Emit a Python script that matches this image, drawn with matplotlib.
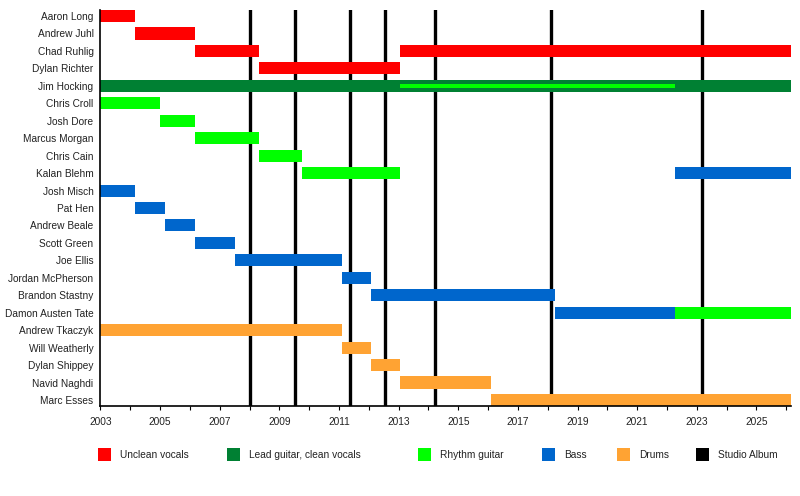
import matplotlib
matplotlib.use("Agg")
import matplotlib.pyplot as plt
from matplotlib.patches import Rectangle
from matplotlib.ticker import MultipleLocator

plt.rcParams["font.family"] = ["Liberation Sans", "DejaVu Sans"]

# ---------------- data ----------------
END = 2026.15

members = [
    "Aaron Long", "Andrew Juhl", "Chad Ruhlig", "Dylan Richter", "Jim Hocking",
    "Chris Croll", "Josh Dore", "Marcus Morgan", "Chris Cain", "Kalan Blehm",
    "Josh Misch", "Pat Hen", "Andrew Beale", "Scott Green", "Joe Ellis",
    "Jordan McPherson", "Brandon Stastny", "Damon Austen Tate",
    "Andrew Tkaczyk", "Will Weatherly", "Dylan Shippey", "Navid Naghdi",
    "Marc Esses",
]

roles = ["Unclean vocals", "Lead guitar, clean vocals", "Rhythm guitar",
         "Bass", "Drums", "Studio Album"]
role_colors = ["#ff0000", "#008033", "#00ff00", "#0066cc", "#ffa333", "#000000"]

# (member, role, start, end)
stints = [
    ("Aaron Long", "Unclean vocals", 2003.0, 2004.16),
    ("Andrew Juhl", "Unclean vocals", 2004.16, 2006.18),
    ("Chad Ruhlig", "Unclean vocals", 2006.18, 2008.32),
    ("Chad Ruhlig", "Unclean vocals", 2013.05, END),
    ("Dylan Richter", "Unclean vocals", 2008.32, 2013.05),
    ("Jim Hocking", "Lead guitar, clean vocals", 2003.0, END),
    ("Chris Croll", "Rhythm guitar", 2003.0, 2005.0),
    ("Josh Dore", "Rhythm guitar", 2005.0, 2006.18),
    ("Marcus Morgan", "Rhythm guitar", 2006.18, 2008.32),
    ("Chris Cain", "Rhythm guitar", 2008.32, 2009.76),
    ("Kalan Blehm", "Rhythm guitar", 2009.76, 2013.05),
    ("Kalan Blehm", "Bass", 2022.27, END),
    ("Josh Misch", "Bass", 2003.0, 2004.16),
    ("Pat Hen", "Bass", 2004.16, 2005.17),
    ("Andrew Beale", "Bass", 2005.17, 2006.18),
    ("Scott Green", "Bass", 2006.18, 2007.52),
    ("Joe Ellis", "Bass", 2007.52, 2011.1),
    ("Jordan McPherson", "Bass", 2011.1, 2012.08),
    ("Brandon Stastny", "Bass", 2012.08, 2018.25),
    ("Damon Austen Tate", "Bass", 2018.25, 2022.27),
    ("Damon Austen Tate", "Rhythm guitar", 2022.27, END),
    ("Andrew Tkaczyk", "Drums", 2003.0, 2011.1),
    ("Will Weatherly", "Drums", 2011.1, 2012.08),
    ("Dylan Shippey", "Drums", 2012.08, 2013.05),
    ("Navid Naghdi", "Drums", 2013.05, 2016.1),
    ("Marc Esses", "Drums", 2016.1, END),
]

# secondary role drawn as a thin bar inside the main one
thin_stints = [
    ("Jim Hocking", "Rhythm guitar", 2013.05, 2022.27),
]

album_years = [2008.0, 2009.54, 2011.38, 2012.53, 2014.23, 2018.12, 2023.19]

# ---------------- plot ----------------
color_of = dict(zip(roles, role_colors))
row_of = {name: i for i, name in enumerate(members)}

fig = plt.figure(figsize=(8, 4.96), dpi=100)
ax = fig.add_axes([0.1256, 0.1815, 0.9884 - 0.1256, 0.9798 - 0.1815])

bar_h = 0.69

for year in album_years:
    ax.axvline(year, color="black", linewidth=2.4, zorder=1)

for name, role, start, end in stints:
    ax.barh(row_of[name], end - start, left=start, height=bar_h,
            color=color_of[role], linewidth=0, zorder=2)

for name, role, start, end in thin_stints:
    ax.barh(row_of[name], end - start, left=start, height=0.23,
            color=color_of[role], linewidth=0, zorder=3)

ax.set_xlim(2003, END)
ax.set_ylim(len(members) - 1 + bar_h / 2, -bar_h / 2)

ax.set_yticks(range(len(members)))
ax.set_yticklabels(members, fontsize=7.3, color="#222222")
ax.tick_params(axis="y", length=0, pad=5)

ax.xaxis.set_major_locator(MultipleLocator(2))
ax.xaxis.set_minor_locator(MultipleLocator(1))
ax.set_xticks(range(2003, 2027, 2))
ax.tick_params(axis="x", which="both", length=3, width=0.8, pad=5,
               labelsize=7.3, labelcolor="#222222")

for side in ["top", "right"]:
    ax.spines[side].set_visible(False)
ax.spines["left"].set_linewidth(1.2)
ax.spines["bottom"].set_linewidth(1.2)
ax.spines["left"].set_zorder(4)

# ---------------- legend ----------------
legend_x = [98, 227, 418, 542, 617, 696]
for lx, label, col in zip(legend_x, roles, role_colors):
    fig.patches.append(Rectangle((lx / 800, 1 - 461 / 496), 12.5 / 800, 13 / 496,
                                 transform=fig.transFigure, color=col,
                                 linewidth=0))
    fig.text((lx + 22) / 800, 1 - 455 / 496, label, fontsize=7.3,
             va="center", ha="left", color="#222222")

fig.savefig("out.png", dpi=100)
plt.close(fig)
